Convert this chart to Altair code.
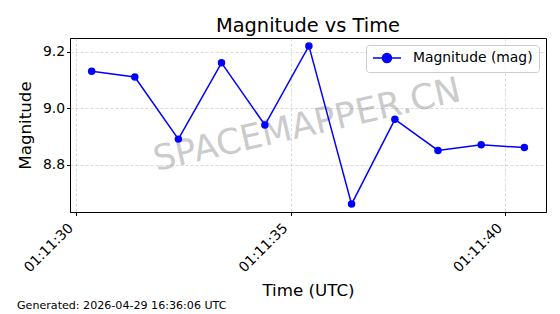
import altair as alt
import pandas as pd

# ---- data ----
times = ["01:11:30.365", "01:11:31.370", "01:11:32.385", "01:11:33.390",
         "01:11:34.400", "01:11:35.426", "01:11:36.420", "01:11:37.430",
         "01:11:38.434", "01:11:39.440", "01:11:40.446"]
magnitudes = [9.13, 9.11, 8.89, 9.16, 8.94, 9.22, 8.66, 8.96, 8.85, 8.87, 8.86]
series_name = "Magnitude (mag)"
day = "2026-04-29"
x_tick_labels = ["01:11:30", "01:11:35", "01:11:40"]
y_ticks = [8.8, 9.0, 9.2]
title_text = "Magnitude vs Time"
footer_text = "Generated: 2026-04-29 16:36:06 UTC"
watermark_text = "SPACEMAPPER.CN"

df = pd.DataFrame({
    "time": [f"{day}T{t}Z" for t in times],
    "mag": magnitudes,
    "series": [series_name] * len(times),
})
ticks_df = pd.DataFrame({
    "time": [f"{day}T{t}Z" for t in x_tick_labels],
    "label": x_tick_labels,
})

FONT = "DejaVu Sans"


def dt(sec):
    s = int(sec)
    ms = int(round((sec - s) * 1000))
    return alt.DateTime(year=2026, month=4, date=29, hours=1, minutes=11,
                        seconds=s, milliseconds=ms, utc=True)


x_scale = alt.Scale(type="utc", domain=[dt(29.86), dt(40.95)], nice=False)
x_enc = alt.X(
    "time:T",
    scale=x_scale,
    axis=alt.Axis(
        title="Time (UTC)", values=[dt(int(t[-2:])) for t in x_tick_labels],
        labels=False,
        titleY=83, titleBaseline="alphabetic",
    ),
)
y_enc = alt.Y(
    "mag:Q",
    scale=alt.Scale(domain=[8.632, 9.248], nice=False, zero=False),
    axis=alt.Axis(title="Magnitude", values=y_ticks, format=".1f",
                  titleX=-40, titleBaseline="alphabetic"),
)

base = alt.Chart(df)

line = base.mark_line(color="blue", strokeWidth=1.5).encode(
    x=x_enc, y=y_enc,
    color=alt.Color(
        "series:N",
        scale=alt.Scale(domain=[series_name], range=["blue"]),
        legend=alt.Legend(
            title=None, orient="top-right", offset=7,
            symbolType="M-2.8,0L2.8,0M-0.9,0A0.9,0.9,0,1,1,0.9,0A0.9,0.9,0,1,1,-0.9,0Z",
            symbolSize=100, symbolStrokeWidth=1.5, symbolOffset=8,
            symbolFillColor="blue", symbolStrokeColor="blue",
            labelFont=FONT, labelFontSize=13.9, labelColor="black",
            fillColor="rgba(255,255,255,0.8)", strokeColor="#cccccc",
            cornerRadius=3, padding=6, labelOffset=19,
        ),
    ),
)
points = base.mark_point(filled=True, color="blue", size=56, opacity=1).encode(
    x=x_enc, y=y_enc
)

tick_labels = alt.Chart(ticks_df).mark_text(
    font=FONT, fontSize=13.9, color="black", angle=315,
    align="right", baseline="middle", dx=-5, dy=-2,
).encode(
    x=alt.X("time:T", scale=x_scale),
    y=alt.value(186),
    text="label:N",
)

wm = alt.Chart(pd.DataFrame({"t": [watermark_text]})).mark_text(
    font=FONT, fontSize=35, color="gray", opacity=0.4, angle=347,
    align="center", baseline="middle",
).encode(text="t:N", x=alt.value(237), y=alt.value(87))

footer = alt.Chart(pd.DataFrame({"t": [footer_text]})).mark_text(
    font=FONT, fontSize=11.1, color="black", align="left", baseline="alphabetic",
).encode(text="t:N", x=alt.value(-53), y=alt.value(271))

chart = alt.layer(wm, line, points, tick_labels, footer).properties(
    width=476, height=174,
    autosize=alt.AutoSizeParams(type="none"),
    padding={"left": 70, "top": 38, "right": 14, "bottom": 102},
    title=alt.Title(title_text, font=FONT, fontSize=19.4, fontWeight="normal",
                    anchor="middle", baseline="alphabetic", offset=7, dy=20,
                    color="black"),
).configure_view(
    stroke="black", strokeWidth=1
).configure_axis(
    labelFont=FONT, labelFontSize=13.9, labelColor="black",
    titleFont=FONT, titleFontSize=16.7, titleColor="black", titleFontWeight="normal",
    domainColor="black", domainWidth=1, tickColor="black", tickSize=3.5, tickWidth=1,
    gridColor="#b0b0b0", gridOpacity=0.6, gridDash=[3, 2], gridWidth=0.8,
)

chart.save("out.html", embed_options={"renderer": "svg", "actions": False})
